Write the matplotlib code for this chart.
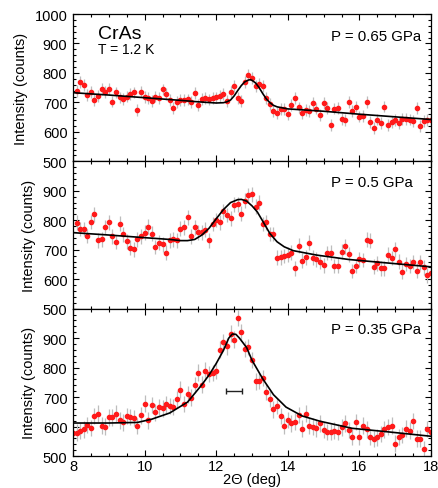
import matplotlib.pyplot as plt
from matplotlib.ticker import MultipleLocator

plt.rcParams['font.family'] = ['Liberation Sans', 'DejaVu Sans']

# scattering angle 2theta (deg), same grid for the 0.65 and 0.5 GPa scans
two_theta = [
    8.1, 8.2, 8.3, 8.4, 8.5, 8.6, 8.7, 8.8, 8.9,
    9.0, 9.1, 9.2, 9.3, 9.4, 9.5, 9.6, 9.7, 9.8, 9.9,
    10.0, 10.1, 10.2, 10.3, 10.4, 10.5, 10.6, 10.7, 10.8, 10.9,
    11.0, 11.1, 11.2, 11.3, 11.4, 11.5, 11.6, 11.7, 11.8, 11.9,
    12.0, 12.1, 12.2, 12.3, 12.4, 12.5, 12.6, 12.7, 12.8, 12.9,
    13.0, 13.1, 13.2, 13.3, 13.4, 13.5, 13.6, 13.7, 13.8, 13.9,
    14.0, 14.1, 14.2, 14.3, 14.4, 14.5, 14.6, 14.7, 14.8, 14.9,
    15.0, 15.1, 15.2, 15.3, 15.4, 15.5, 15.6, 15.7, 15.8, 15.9,
    16.0, 16.1, 16.2, 16.3, 16.4, 16.5, 16.6, 16.7, 16.8, 16.9,
    17.0, 17.1, 17.2, 17.3, 17.4, 17.5, 17.6, 17.7, 17.8, 17.9,
    18.0,
]
two_theta_035 = [8.0] + two_theta

counts_065 = [
    739, 768, 759, 726, 735, 708, 723, 746, 736,
    745, 703, 734, 717, 712, 720, 728, 734, 673, 737,
    719, 714, 705, 720, 716, 744, 729, 707, 682, 701,
    707, 709, 710, 701, 731, 692, 712, 715, 710, 715,
    717, 722, 728, 706, 736, 757, 714, 706, 768, 792,
    784, 757, 764, 755, 715, 695, 670, 664, 678, 678,
    660, 692, 715, 683, 664, 674, 670, 699, 679, 657,
    699, 681, 623, 679, 681, 645, 639, 701, 672, 686,
    652, 654, 701, 634, 612, 642, 630, 686, 623, 633,
    639, 630, 645, 645, 642, 636, 681, 620, 636, 639,
    639,
]
counts_050 = [
    792, 770, 770, 747, 794, 820, 732, 735, 777,
    793, 746, 726, 788, 752, 729, 707, 702, 735, 746,
    758, 778, 754, 709, 724, 718, 690, 732, 735, 732,
    771, 776, 810, 746, 776, 759, 759, 768, 732, 787,
    801, 793, 831, 818, 807, 853, 854, 822, 867, 885,
    888, 846, 860, 787, 793, 753, 753, 673, 674, 679,
    683, 690, 637, 714, 663, 674, 724, 673, 667, 658,
    647, 689, 690, 645, 646, 693, 712, 685, 628, 645,
    667, 665, 734, 731, 642, 654, 637, 637, 683, 672,
    702, 660, 625, 652, 645, 658, 629, 657, 640, 613,
    620,
]
counts_035 = [
    579, 579, 585, 590, 605, 595, 635, 644, 603, 600,
    631, 631, 644, 621, 614, 635, 633, 629, 602, 638,
    678, 621, 673, 648, 667, 662, 675, 669, 667, 692,
    725, 676, 709, 698, 741, 783, 742, 790, 778, 782,
    788, 861, 887, 872, 915, 895, 968, 920, 864, 870,
    826, 753, 754, 764, 718, 694, 658, 669, 635, 603,
    623, 611, 617, 640, 593, 644, 602, 600, 594, 611,
    588, 581, 581, 586, 582, 597, 611, 588, 565, 616,
    565, 603, 590, 565, 558, 563, 575, 590, 598, 603,
    542, 565, 571, 593, 586, 619, 559, 559, 524, 592,
    582,
]
err_065 = 20
err_050 = 25
err_035 = 28

# fitted curves
fit_x_065 = [8.0, 9.0, 10.0, 11.0, 11.5, 12.0, 12.2, 12.3, 12.4, 12.5, 12.6,
             12.7, 12.8, 12.9, 12.95, 13.0, 13.1, 13.2, 13.3, 13.4, 13.5,
             13.6, 13.7, 14.0, 15.0, 16.0, 17.0, 18.0]
fit_y_065 = [733, 725, 716, 707, 702, 698, 699, 702, 708, 722, 740,
             757, 770, 776, 777, 775, 766, 750, 730, 712, 699,
             690, 685, 678, 670, 660, 651, 642]

fit_x_050 = [8.0, 9.0, 10.0, 10.7, 11.0, 11.2, 11.4, 11.6, 11.8, 12.0, 12.2,
             12.4, 12.6, 12.7, 12.85, 13.0, 13.15, 13.3, 13.5, 13.7, 13.9,
             14.15, 14.8, 15.7, 16.7, 18.0]
fit_y_050 = [758, 750, 741, 735, 731, 731, 735, 750, 773, 805, 836,
             860, 870, 871, 865, 849, 828, 797, 755, 727, 710,
             697, 682, 667, 656, 642]

fit_x_035 = [8.0, 9.0, 9.8, 10.2, 10.7, 11.2, 11.6, 11.8, 12.0, 12.2, 12.35,
             12.45, 12.55, 12.65, 12.85, 13.0, 13.3, 13.6, 13.95, 14.4, 14.9,
             15.8, 16.8, 18.0]
fit_y_035 = [612, 612, 614, 625, 646, 683, 742, 775, 814, 858, 900,
             914, 913, 900, 868, 825, 762, 708, 666, 636, 618,
             594, 582, 567]

panel_labels = ['P = 0.65 GPa', 'P = 0.5 GPa', 'P = 0.35 GPa']

# instrumental resolution bar (bottom panel)
res_center = 12.49
res_halfwidth = 0.22
res_level = 720

panels = [
    (two_theta, counts_065, err_065, fit_x_065, fit_y_065),
    (two_theta, counts_050, err_050, fit_x_050, fit_y_050),
    (two_theta_035, counts_035, err_035, fit_x_035, fit_y_035),
]

fig, axes = plt.subplots(3, 1, sharex=True, figsize=(4.39, 4.89), dpi=100)
fig.subplots_adjust(left=0.1663, right=0.9818, top=0.9693, bottom=0.0654,
                    hspace=0)

for i, (ax, (x, y, err, fx, fy)) in enumerate(zip(axes, panels)):
    ax.errorbar(x, y, yerr=err, fmt='o', ms=3.0, mfc='#ff1a1a', mec='#ff1a1a',
                ecolor='#bdbdbd', elinewidth=0.9, capsize=0, zorder=2)
    ax.plot(fx, fy, color='black', lw=1.2, zorder=3)
    ax.set_xlim(8, 18)
    ax.set_ylim(500, 1000)
    if i == 0:
        ax.set_yticks([500, 600, 700, 800, 900, 1000])
    else:
        ax.set_yticks([500, 600, 700, 800, 900])
    ax.yaxis.set_minor_locator(MultipleLocator(20))
    ax.xaxis.set_major_locator(MultipleLocator(2))
    ax.xaxis.set_minor_locator(MultipleLocator(0.5))
    ax.tick_params(which='both', direction='in', top=True, right=True,
                   labelsize=10.5, width=0.8)
    ax.tick_params(which='major', length=4, pad=4)
    ax.tick_params(which='minor', length=2)
    ax.tick_params(axis='x', which='major', pad=2.5)
    for s in ax.spines.values():
        s.set_linewidth(0.9)
    ax.set_ylabel('Intensity (counts)', fontsize=10.5, labelpad=5)
    ax.text(0.7207, [0.821, 0.836, 0.837][i], panel_labels[i],
            transform=ax.transAxes, fontsize=10.8, va='baseline', ha='left')

axes[0].text(0.0698, 0.839, 'CrAs', transform=axes[0].transAxes,
             fontsize=14, va='baseline', ha='left')
axes[0].text(0.0698, 0.738, 'T = 1.2 K', transform=axes[0].transAxes,
             fontsize=10, va='baseline', ha='left')

axes[2].errorbar(res_center, res_level, xerr=res_halfwidth, fmt='none',
                 ecolor='#222222', elinewidth=1.0, capsize=2.2, capthick=1.0)
axes[2].set_xlabel('2\u0398 (deg)', fontsize=10.5, labelpad=-1)

fig.savefig('out.png', dpi=100)
